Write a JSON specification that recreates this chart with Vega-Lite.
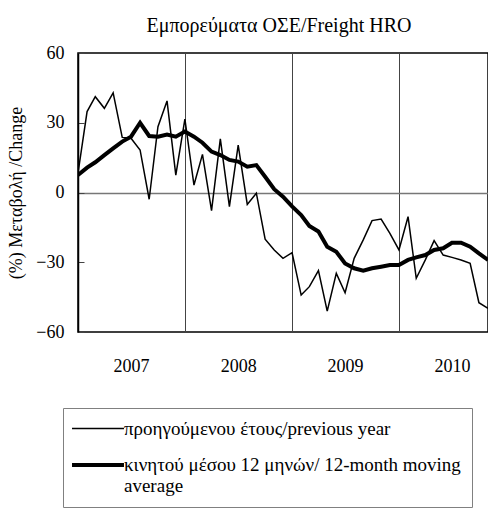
{
  "$schema": "https://vega.github.io/schema/vega-lite/v6.json",
  "width": 410,
  "height": 279,
  "autosize": {"type": "none"},
  "padding": {"left": 78, "top": 53, "right": 0, "bottom": 177},
  "background": "white",
  "title": {"text": "Εμπορεύματα ΟΣΕ/Freight HRO", "font": "Liberation Serif", "fontSize": 20, "fontWeight": "normal", "color": "black", "offset": 8, "anchor": "middle", "dx": -4},
  "config": {
    "view": {"stroke": "black", "strokeWidth": 1.5},
    "font": "Liberation Serif",
    "legend": {"labelFont": "Liberation Serif"}
  },
  "data": {"values": [
    {"date": "2007-01-01", "p": 8.3, "m": 7.5},
    {"date": "2007-02-01", "p": 34.8, "m": 10.7},
    {"date": "2007-03-01", "p": 41.2, "m": 13.0},
    {"date": "2007-04-01", "p": 36.2, "m": 16.1},
    {"date": "2007-05-01", "p": 42.9, "m": 19.0},
    {"date": "2007-06-01", "p": 23.7, "m": 21.9},
    {"date": "2007-07-01", "p": 23.3, "m": 24.0},
    {"date": "2007-08-01", "p": 18.3, "m": 30.0},
    {"date": "2007-09-01", "p": -2.9, "m": 24.3},
    {"date": "2007-10-01", "p": 28.3, "m": 24.0},
    {"date": "2007-11-01", "p": 39.4, "m": 24.9},
    {"date": "2007-12-01", "p": 7.5, "m": 24.0},
    {"date": "2008-01-01", "p": 31.6, "m": 26.2},
    {"date": "2008-02-01", "p": 3.2, "m": 24.0},
    {"date": "2008-03-01", "p": 16.4, "m": 21.4},
    {"date": "2008-04-01", "p": -7.8, "m": 17.6},
    {"date": "2008-05-01", "p": 23.1, "m": 16.1},
    {"date": "2008-06-01", "p": -6.1, "m": 14.0},
    {"date": "2008-07-01", "p": 20.4, "m": 13.3},
    {"date": "2008-08-01", "p": -5.1, "m": 11.1},
    {"date": "2008-09-01", "p": -0.3, "m": 11.8},
    {"date": "2008-10-01", "p": -20.1, "m": 6.8},
    {"date": "2008-11-01", "p": -24.7, "m": 1.4},
    {"date": "2008-12-01", "p": -28.3, "m": -1.8},
    {"date": "2009-01-01", "p": -25.9, "m": -6.0},
    {"date": "2009-02-01", "p": -44.1, "m": -9.7},
    {"date": "2009-03-01", "p": -40.5, "m": -14.4},
    {"date": "2009-04-01", "p": -33.6, "m": -16.8},
    {"date": "2009-05-01", "p": -51.0, "m": -23.3},
    {"date": "2009-06-01", "p": -34.8, "m": -25.5},
    {"date": "2009-07-01", "p": -43.1, "m": -30.5},
    {"date": "2009-08-01", "p": -28.3, "m": -32.6},
    {"date": "2009-09-01", "p": -20.4, "m": -33.6},
    {"date": "2009-10-01", "p": -12.1, "m": -32.6},
    {"date": "2009-11-01", "p": -11.4, "m": -31.9},
    {"date": "2009-12-01", "p": -17.6, "m": -31.2},
    {"date": "2010-01-01", "p": -24.7, "m": -31.2},
    {"date": "2010-02-01", "p": -10.4, "m": -29.0},
    {"date": "2010-03-01", "p": -36.9, "m": -27.9},
    {"date": "2010-04-01", "p": -29.0, "m": -26.9},
    {"date": "2010-05-01", "p": -20.7, "m": -24.7},
    {"date": "2010-06-01", "p": -26.9, "m": -24.0},
    {"date": "2010-07-01", "p": -27.9, "m": -21.6},
    {"date": "2010-08-01", "p": -29.0, "m": -21.6},
    {"date": "2010-09-01", "p": -30.5, "m": -23.3},
    {"date": "2010-10-01", "p": -47.4, "m": -26.2},
    {"date": "2010-11-01", "p": -49.8, "m": -29.0}
  ]},
  "transform": [
    {"fold": ["p", "m"], "as": ["key", "value"]},
    {"lookup": "key", "from": {"data": {"values": [
      {"key": "p", "series": "προηγούμενου έτους/previous year"},
      {"key": "m", "series": "κινητού μέσου 12 μηνών/ 12-month moving average"}
    ]}, "key": "key", "fields": ["series"]}}
  ],
  "mark": {"type": "line", "color": "black", "clip": true, "strokeJoin": "miter"},
  "encoding": {
    "x": {
      "field": "date", "type": "temporal",
      "scale": {"type": "utc", "domain": [{"year": 2007, "month": 1, "date": 1, "utc": true}, {"year": 2010, "month": 11, "date": 1, "utc": true}]},
      "axis": {
        "title": null,
        "values": [
          {"year": 2007, "month": 7, "date": 1, "utc": true},
          {"year": 2008, "month": 1, "date": 1, "utc": true},
          {"year": 2008, "month": 7, "date": 1, "utc": true},
          {"year": 2009, "month": 1, "date": 1, "utc": true},
          {"year": 2009, "month": 7, "date": 1, "utc": true},
          {"year": 2010, "month": 1, "date": 1, "utc": true},
          {"year": 2010, "month": 7, "date": 1, "utc": true}
        ],
        "labelExpr": "utcmonth(datum.value) == 6 ? utcFormat(datum.value, '%Y') : ''",
        "labelOverlap": false,
        "labelFont": "Liberation Serif",
        "labelFontSize": 18,
        "labelColor": "black",
        "labelPadding": 25,
        "ticks": false,
        "domain": false,
        "grid": true,
        "gridColor": "#444444",
        "gridWidth": 1,
        "gridOpacity": {"condition": {"test": "utcmonth(datum.value) == 0", "value": 1}, "value": 0}
      }
    },
    "y": {
      "field": "value", "type": "quantitative",
      "scale": {"domain": [-60, 60]},
      "axis": {
        "values": [-60, -30, 0, 30, 60],
        "title": "(%) Μεταβολή  /Change",
        "titleFont": "Liberation Serif",
        "titleFontSize": 18,
        "titleFontWeight": "normal",
        "titleColor": "black",
        "titlePadding": 10,
        "labelFont": "Liberation Serif",
        "labelFontSize": 18,
        "labelColor": "black",
        "labelPadding": 20,
        "tickSize": -6,
        "tickColor": "#444444",
        "domainColor": "black",
        "domainWidth": 1.5,
        "grid": true,
        "gridColor": "#777777",
        "gridWidth": 1.5,
        "gridOpacity": {"condition": {"test": "datum.value === 0", "value": 1}, "value": 0}
      }
    },
    "strokeWidth": {
      "field": "series", "type": "nominal",
      "scale": {"domain": ["προηγούμενου έτους/previous year", "κινητού μέσου 12 μηνών/ 12-month moving average"], "range": [1.5, 4]},
      "legend": {
        "orient": "none",
        "legendX": -15,
        "legendY": 355,
        "title": null,
        "symbolType": "M-3,0H3",
        "symbolSize": 300,
        "symbolOffset": 13,
        "symbolStrokeColor": "black",
        "labelFont": "Liberation Serif",
        "labelFontSize": 19,
        "labelColor": "black",
        "labelLimit": 600,
        "labelOffset": 15,
        "labelExpr": "datum.label == 'κινητού μέσου 12 μηνών/ 12-month moving average' ? ['κινητού μέσου 12 μηνών/ 12-month moving', 'average'] : datum.label",
        "strokeColor": "#808080",
        "padding": 11,
        "gridAlign": "none",
        "rowPadding": 15
      }
    }
  }
}
